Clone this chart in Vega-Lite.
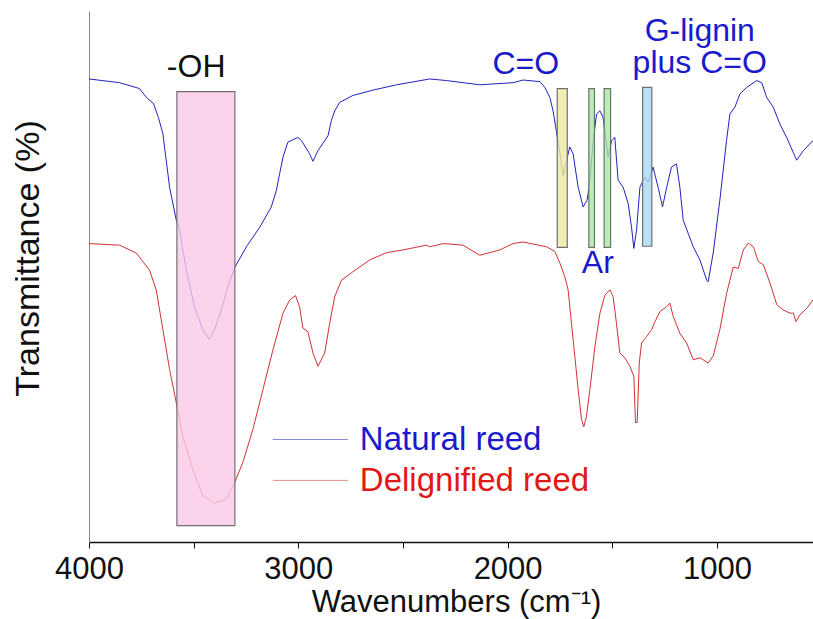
{
  "$schema": "https://vega.github.io/schema/vega-lite/v6.json",
  "width": 724,
  "height": 531,
  "autosize": {"type": "none"},
  "padding": {"left": 89, "top": 11, "right": 0, "bottom": 77},
  "background": "white",
  "config": {
    "view": {"stroke": null},
    "font": "Liberation Sans",
    "text": {"font": "Liberation Sans"}
  },
  "datasets": {
    "spectra": [
      {"wavenumber": 4000, "transmittance": 87.2, "sample": "Natural reed"},
      {"wavenumber": 3854, "transmittance": 86.5, "sample": "Natural reed"},
      {"wavenumber": 3759, "transmittance": 85.4, "sample": "Natural reed"},
      {"wavenumber": 3725, "transmittance": 83.7, "sample": "Natural reed"},
      {"wavenumber": 3692, "transmittance": 82.6, "sample": "Natural reed"},
      {"wavenumber": 3668, "transmittance": 79.9, "sample": "Natural reed"},
      {"wavenumber": 3647, "transmittance": 76.9, "sample": "Natural reed"},
      {"wavenumber": 3615, "transmittance": 66.8, "sample": "Natural reed"},
      {"wavenumber": 3583, "transmittance": 60.6, "sample": "Natural reed"},
      {"wavenumber": 3567, "transmittance": 58.7, "sample": "Natural reed"},
      {"wavenumber": 3535, "transmittance": 51.2, "sample": "Natural reed"},
      {"wavenumber": 3496, "transmittance": 44.3, "sample": "Natural reed"},
      {"wavenumber": 3456, "transmittance": 40.0, "sample": "Natural reed"},
      {"wavenumber": 3427, "transmittance": 38.2, "sample": "Natural reed"},
      {"wavenumber": 3400, "transmittance": 40.0, "sample": "Natural reed"},
      {"wavenumber": 3368, "transmittance": 43.7, "sample": "Natural reed"},
      {"wavenumber": 3336, "transmittance": 48.1, "sample": "Natural reed"},
      {"wavenumber": 3304, "transmittance": 51.7, "sample": "Natural reed"},
      {"wavenumber": 3248, "transmittance": 55.6, "sample": "Natural reed"},
      {"wavenumber": 3184, "transmittance": 59.3, "sample": "Natural reed"},
      {"wavenumber": 3129, "transmittance": 63.1, "sample": "Natural reed"},
      {"wavenumber": 3105, "transmittance": 66.2, "sample": "Natural reed"},
      {"wavenumber": 3089, "transmittance": 69.4, "sample": "Natural reed"},
      {"wavenumber": 3073, "transmittance": 72.5, "sample": "Natural reed"},
      {"wavenumber": 3050, "transmittance": 75.3, "sample": "Natural reed"},
      {"wavenumber": 3002, "transmittance": 76.2, "sample": "Natural reed"},
      {"wavenumber": 2985, "transmittance": 75.6, "sample": "Natural reed"},
      {"wavenumber": 2946, "transmittance": 73.1, "sample": "Natural reed"},
      {"wavenumber": 2930, "transmittance": 71.7, "sample": "Natural reed"},
      {"wavenumber": 2906, "transmittance": 73.7, "sample": "Natural reed"},
      {"wavenumber": 2858, "transmittance": 76.5, "sample": "Natural reed"},
      {"wavenumber": 2842, "transmittance": 79.4, "sample": "Natural reed"},
      {"wavenumber": 2826, "transmittance": 81.2, "sample": "Natural reed"},
      {"wavenumber": 2802, "transmittance": 82.8, "sample": "Natural reed"},
      {"wavenumber": 2739, "transmittance": 84.1, "sample": "Natural reed"},
      {"wavenumber": 2643, "transmittance": 85.1, "sample": "Natural reed"},
      {"wavenumber": 2531, "transmittance": 86.1, "sample": "Natural reed"},
      {"wavenumber": 2372, "transmittance": 87.2, "sample": "Natural reed"},
      {"wavenumber": 2292, "transmittance": 86.9, "sample": "Natural reed"},
      {"wavenumber": 2133, "transmittance": 86.1, "sample": "Natural reed"},
      {"wavenumber": 1974, "transmittance": 86.5, "sample": "Natural reed"},
      {"wavenumber": 1926, "transmittance": 87.0, "sample": "Natural reed"},
      {"wavenumber": 1846, "transmittance": 86.7, "sample": "Natural reed"},
      {"wavenumber": 1822, "transmittance": 85.6, "sample": "Natural reed"},
      {"wavenumber": 1798, "transmittance": 83.7, "sample": "Natural reed"},
      {"wavenumber": 1783, "transmittance": 81.2, "sample": "Natural reed"},
      {"wavenumber": 1770, "transmittance": 78.1, "sample": "Natural reed"},
      {"wavenumber": 1750, "transmittance": 73.1, "sample": "Natural reed"},
      {"wavenumber": 1735, "transmittance": 69.0, "sample": "Natural reed"},
      {"wavenumber": 1718, "transmittance": 71.9, "sample": "Natural reed"},
      {"wavenumber": 1703, "transmittance": 74.4, "sample": "Natural reed"},
      {"wavenumber": 1687, "transmittance": 73.1, "sample": "Natural reed"},
      {"wavenumber": 1663, "transmittance": 66.8, "sample": "Natural reed"},
      {"wavenumber": 1639, "transmittance": 63.1, "sample": "Natural reed"},
      {"wavenumber": 1620, "transmittance": 64.4, "sample": "Natural reed"},
      {"wavenumber": 1607, "transmittance": 68.1, "sample": "Natural reed"},
      {"wavenumber": 1591, "transmittance": 75.6, "sample": "Natural reed"},
      {"wavenumber": 1575, "transmittance": 80.6, "sample": "Natural reed"},
      {"wavenumber": 1559, "transmittance": 81.2, "sample": "Natural reed"},
      {"wavenumber": 1544, "transmittance": 80.0, "sample": "Natural reed"},
      {"wavenumber": 1520, "transmittance": 72.5, "sample": "Natural reed"},
      {"wavenumber": 1503, "transmittance": 75.6, "sample": "Natural reed"},
      {"wavenumber": 1488, "transmittance": 76.2, "sample": "Natural reed"},
      {"wavenumber": 1472, "transmittance": 68.1, "sample": "Natural reed"},
      {"wavenumber": 1448, "transmittance": 66.8, "sample": "Natural reed"},
      {"wavenumber": 1424, "transmittance": 63.7, "sample": "Natural reed"},
      {"wavenumber": 1408, "transmittance": 59.3, "sample": "Natural reed"},
      {"wavenumber": 1397, "transmittance": 55.3, "sample": "Natural reed"},
      {"wavenumber": 1384, "transmittance": 58.7, "sample": "Natural reed"},
      {"wavenumber": 1368, "transmittance": 66.8, "sample": "Natural reed"},
      {"wavenumber": 1344, "transmittance": 68.7, "sample": "Natural reed"},
      {"wavenumber": 1328, "transmittance": 67.8, "sample": "Natural reed"},
      {"wavenumber": 1305, "transmittance": 70.6, "sample": "Natural reed"},
      {"wavenumber": 1281, "transmittance": 66.8, "sample": "Natural reed"},
      {"wavenumber": 1260, "transmittance": 63.1, "sample": "Natural reed"},
      {"wavenumber": 1240, "transmittance": 66.8, "sample": "Natural reed"},
      {"wavenumber": 1217, "transmittance": 70.6, "sample": "Natural reed"},
      {"wavenumber": 1193, "transmittance": 71.2, "sample": "Natural reed"},
      {"wavenumber": 1177, "transmittance": 66.8, "sample": "Natural reed"},
      {"wavenumber": 1161, "transmittance": 60.6, "sample": "Natural reed"},
      {"wavenumber": 1137, "transmittance": 58.1, "sample": "Natural reed"},
      {"wavenumber": 1113, "transmittance": 55.6, "sample": "Natural reed"},
      {"wavenumber": 1081, "transmittance": 53.1, "sample": "Natural reed"},
      {"wavenumber": 1049, "transmittance": 49.3, "sample": "Natural reed"},
      {"wavenumber": 1042, "transmittance": 49.0, "sample": "Natural reed"},
      {"wavenumber": 1018, "transmittance": 54.4, "sample": "Natural reed"},
      {"wavenumber": 986, "transmittance": 64.4, "sample": "Natural reed"},
      {"wavenumber": 954, "transmittance": 75.6, "sample": "Natural reed"},
      {"wavenumber": 938, "transmittance": 80.6, "sample": "Natural reed"},
      {"wavenumber": 914, "transmittance": 81.9, "sample": "Natural reed"},
      {"wavenumber": 890, "transmittance": 84.4, "sample": "Natural reed"},
      {"wavenumber": 858, "transmittance": 85.6, "sample": "Natural reed"},
      {"wavenumber": 810, "transmittance": 86.9, "sample": "Natural reed"},
      {"wavenumber": 786, "transmittance": 86.5, "sample": "Natural reed"},
      {"wavenumber": 762, "transmittance": 83.7, "sample": "Natural reed"},
      {"wavenumber": 731, "transmittance": 81.9, "sample": "Natural reed"},
      {"wavenumber": 699, "transmittance": 78.7, "sample": "Natural reed"},
      {"wavenumber": 667, "transmittance": 76.2, "sample": "Natural reed"},
      {"wavenumber": 619, "transmittance": 71.9, "sample": "Natural reed"},
      {"wavenumber": 587, "transmittance": 73.7, "sample": "Natural reed"},
      {"wavenumber": 541, "transmittance": 75.6, "sample": "Natural reed"},

      {"wavenumber": 4000, "transmittance": 56.2, "sample": "Delignified reed"},
      {"wavenumber": 3854, "transmittance": 55.9, "sample": "Delignified reed"},
      {"wavenumber": 3774, "transmittance": 54.4, "sample": "Delignified reed"},
      {"wavenumber": 3711, "transmittance": 51.2, "sample": "Delignified reed"},
      {"wavenumber": 3679, "transmittance": 47.5, "sample": "Delignified reed"},
      {"wavenumber": 3647, "transmittance": 40.0, "sample": "Delignified reed"},
      {"wavenumber": 3615, "transmittance": 32.5, "sample": "Delignified reed"},
      {"wavenumber": 3583, "transmittance": 26.2, "sample": "Delignified reed"},
      {"wavenumber": 3552, "transmittance": 19.9, "sample": "Delignified reed"},
      {"wavenumber": 3504, "transmittance": 13.7, "sample": "Delignified reed"},
      {"wavenumber": 3456, "transmittance": 8.7, "sample": "Delignified reed"},
      {"wavenumber": 3400, "transmittance": 7.3, "sample": "Delignified reed"},
      {"wavenumber": 3344, "transmittance": 8.1, "sample": "Delignified reed"},
      {"wavenumber": 3304, "transmittance": 11.2, "sample": "Delignified reed"},
      {"wavenumber": 3265, "transmittance": 15.0, "sample": "Delignified reed"},
      {"wavenumber": 3217, "transmittance": 21.2, "sample": "Delignified reed"},
      {"wavenumber": 3169, "transmittance": 28.7, "sample": "Delignified reed"},
      {"wavenumber": 3121, "transmittance": 36.2, "sample": "Delignified reed"},
      {"wavenumber": 3073, "transmittance": 43.1, "sample": "Delignified reed"},
      {"wavenumber": 3041, "transmittance": 45.6, "sample": "Delignified reed"},
      {"wavenumber": 3013, "transmittance": 46.4, "sample": "Delignified reed"},
      {"wavenumber": 2994, "transmittance": 44.3, "sample": "Delignified reed"},
      {"wavenumber": 2978, "transmittance": 40.3, "sample": "Delignified reed"},
      {"wavenumber": 2954, "transmittance": 39.6, "sample": "Delignified reed"},
      {"wavenumber": 2930, "transmittance": 35.6, "sample": "Delignified reed"},
      {"wavenumber": 2906, "transmittance": 33.1, "sample": "Delignified reed"},
      {"wavenumber": 2874, "transmittance": 35.6, "sample": "Delignified reed"},
      {"wavenumber": 2850, "transmittance": 41.2, "sample": "Delignified reed"},
      {"wavenumber": 2826, "transmittance": 46.2, "sample": "Delignified reed"},
      {"wavenumber": 2794, "transmittance": 49.3, "sample": "Delignified reed"},
      {"wavenumber": 2739, "transmittance": 50.9, "sample": "Delignified reed"},
      {"wavenumber": 2659, "transmittance": 53.1, "sample": "Delignified reed"},
      {"wavenumber": 2579, "transmittance": 54.5, "sample": "Delignified reed"},
      {"wavenumber": 2500, "transmittance": 55.0, "sample": "Delignified reed"},
      {"wavenumber": 2388, "transmittance": 55.9, "sample": "Delignified reed"},
      {"wavenumber": 2372, "transmittance": 55.6, "sample": "Delignified reed"},
      {"wavenumber": 2308, "transmittance": 56.2, "sample": "Delignified reed"},
      {"wavenumber": 2213, "transmittance": 55.9, "sample": "Delignified reed"},
      {"wavenumber": 2133, "transmittance": 54.0, "sample": "Delignified reed"},
      {"wavenumber": 2037, "transmittance": 55.0, "sample": "Delignified reed"},
      {"wavenumber": 1974, "transmittance": 56.2, "sample": "Delignified reed"},
      {"wavenumber": 1926, "transmittance": 56.5, "sample": "Delignified reed"},
      {"wavenumber": 1814, "transmittance": 55.6, "sample": "Delignified reed"},
      {"wavenumber": 1774, "transmittance": 54.7, "sample": "Delignified reed"},
      {"wavenumber": 1750, "transmittance": 52.5, "sample": "Delignified reed"},
      {"wavenumber": 1727, "transmittance": 50.0, "sample": "Delignified reed"},
      {"wavenumber": 1711, "transmittance": 47.5, "sample": "Delignified reed"},
      {"wavenumber": 1695, "transmittance": 41.2, "sample": "Delignified reed"},
      {"wavenumber": 1679, "transmittance": 35.0, "sample": "Delignified reed"},
      {"wavenumber": 1663, "transmittance": 28.7, "sample": "Delignified reed"},
      {"wavenumber": 1647, "transmittance": 23.1, "sample": "Delignified reed"},
      {"wavenumber": 1636, "transmittance": 21.7, "sample": "Delignified reed"},
      {"wavenumber": 1623, "transmittance": 23.7, "sample": "Delignified reed"},
      {"wavenumber": 1607, "transmittance": 28.7, "sample": "Delignified reed"},
      {"wavenumber": 1583, "transmittance": 36.8, "sample": "Delignified reed"},
      {"wavenumber": 1559, "transmittance": 43.1, "sample": "Delignified reed"},
      {"wavenumber": 1535, "transmittance": 46.5, "sample": "Delignified reed"},
      {"wavenumber": 1511, "transmittance": 47.5, "sample": "Delignified reed"},
      {"wavenumber": 1496, "transmittance": 46.2, "sample": "Delignified reed"},
      {"wavenumber": 1480, "transmittance": 41.2, "sample": "Delignified reed"},
      {"wavenumber": 1464, "transmittance": 35.6, "sample": "Delignified reed"},
      {"wavenumber": 1440, "transmittance": 34.7, "sample": "Delignified reed"},
      {"wavenumber": 1416, "transmittance": 33.1, "sample": "Delignified reed"},
      {"wavenumber": 1397, "transmittance": 31.2, "sample": "Delignified reed"},
      {"wavenumber": 1389, "transmittance": 22.5, "sample": "Delignified reed"},
      {"wavenumber": 1381, "transmittance": 22.5, "sample": "Delignified reed"},
      {"wavenumber": 1371, "transmittance": 33.7, "sample": "Delignified reed"},
      {"wavenumber": 1360, "transmittance": 37.5, "sample": "Delignified reed"},
      {"wavenumber": 1336, "transmittance": 38.7, "sample": "Delignified reed"},
      {"wavenumber": 1312, "transmittance": 40.0, "sample": "Delignified reed"},
      {"wavenumber": 1296, "transmittance": 41.5, "sample": "Delignified reed"},
      {"wavenumber": 1272, "transmittance": 43.4, "sample": "Delignified reed"},
      {"wavenumber": 1240, "transmittance": 44.3, "sample": "Delignified reed"},
      {"wavenumber": 1225, "transmittance": 45.0, "sample": "Delignified reed"},
      {"wavenumber": 1209, "transmittance": 42.5, "sample": "Delignified reed"},
      {"wavenumber": 1177, "transmittance": 39.3, "sample": "Delignified reed"},
      {"wavenumber": 1145, "transmittance": 37.5, "sample": "Delignified reed"},
      {"wavenumber": 1113, "transmittance": 34.3, "sample": "Delignified reed"},
      {"wavenumber": 1081, "transmittance": 34.7, "sample": "Delignified reed"},
      {"wavenumber": 1042, "transmittance": 33.7, "sample": "Delignified reed"},
      {"wavenumber": 1018, "transmittance": 35.0, "sample": "Delignified reed"},
      {"wavenumber": 986, "transmittance": 40.0, "sample": "Delignified reed"},
      {"wavenumber": 954, "transmittance": 46.8, "sample": "Delignified reed"},
      {"wavenumber": 922, "transmittance": 51.8, "sample": "Delignified reed"},
      {"wavenumber": 898, "transmittance": 51.5, "sample": "Delignified reed"},
      {"wavenumber": 874, "transmittance": 55.0, "sample": "Delignified reed"},
      {"wavenumber": 850, "transmittance": 56.3, "sample": "Delignified reed"},
      {"wavenumber": 826, "transmittance": 55.6, "sample": "Delignified reed"},
      {"wavenumber": 802, "transmittance": 52.8, "sample": "Delignified reed"},
      {"wavenumber": 778, "transmittance": 52.2, "sample": "Delignified reed"},
      {"wavenumber": 746, "transmittance": 48.7, "sample": "Delignified reed"},
      {"wavenumber": 714, "transmittance": 44.7, "sample": "Delignified reed"},
      {"wavenumber": 683, "transmittance": 43.7, "sample": "Delignified reed"},
      {"wavenumber": 651, "transmittance": 43.1, "sample": "Delignified reed"},
      {"wavenumber": 635, "transmittance": 43.1, "sample": "Delignified reed"},
      {"wavenumber": 622, "transmittance": 41.5, "sample": "Delignified reed"},
      {"wavenumber": 603, "transmittance": 42.8, "sample": "Delignified reed"},
      {"wavenumber": 571, "transmittance": 44.0, "sample": "Delignified reed"},
      {"wavenumber": 541, "transmittance": 45.6, "sample": "Delignified reed"}
    ],
    "bands": [
      {"band": "-OH", "from": 3580, "to": 3303, "low": 3.1, "high": 84.8, "fill": "#fbc8e7"},
      {"band": "C=O", "from": 1763, "to": 1715, "low": 55.5, "high": 85.4, "fill": "#efe9a0"},
      {"band": "Ar 1", "from": 1612, "to": 1585, "low": 55.5, "high": 85.4, "fill": "#a6e8a0"},
      {"band": "Ar 2", "from": 1539, "to": 1508, "low": 55.5, "high": 85.4, "fill": "#a6e8a0"},
      {"band": "G-lignin", "from": 1355, "to": 1311, "low": 55.7, "high": 85.6, "fill": "#a9d8f2"}
    ],
    "labels": [
      {"text": ["-OH"], "wavenumber": 3488, "transmittance": 87.5, "color": "#111111"},
      {"text": ["C=O"], "wavenumber": 1913, "transmittance": 88.1, "color": "#1a1acc"},
      {"text": ["G-lignin", "plus C=O"], "wavenumber": 1082, "transmittance": 94.4, "color": "#1a1acc"},
      {"text": ["Ar"], "wavenumber": 1569, "transmittance": 50.7, "color": "#1a1acc"}
    ],
    "key": [
      {"sample": "Natural reed", "start": 3122, "end": 2763, "lineAt": 19.3, "textAt": 2706, "baseline": 17.4, "color": "#1a1acc"},
      {"sample": "Delignified reed", "start": 3122, "end": 2763, "lineAt": 11.6, "textAt": 2706, "baseline": 9.6, "color": "#e01818"}
    ]
  },
  "layer": [
    {
      "data": {"name": "spectra"},
      "mark": {"type": "line", "strokeWidth": 1, "interpolate": "linear"},
      "encoding": {
        "x": {
          "field": "wavenumber",
          "type": "quantitative",
          "scale": {"domain": [541, 4000], "reverse": true, "nice": false, "zero": false},
          "axis": {
            "values": [4000, 3500, 3000, 2500, 2000, 1500, 1000],
            "format": "d",
            "labelExpr": "datum.value % 1000 === 0 ? datum.label : ''",
            "labelFont": "Liberation Sans",
            "labelFontSize": 31,
            "labelColor": "#111111",
            "labelPadding": 6,
            "labelFlush": false,
            "labelOverlap": false,
            "tickSize": 6,
            "tickColor": "#111111",
            "domainColor": "#111111",
            "domainWidth": 1.5,
            "grid": false,
            "title": "Wavenumbers (cm⁻¹)",
            "titleFont": "Liberation Sans",
            "titleFontSize": 31,
            "titleFontWeight": "normal",
            "titleColor": "#111111",
            "titlePadding": 3,
            "titleX": 367
          }
        },
        "y": {
          "field": "transmittance",
          "type": "quantitative",
          "scale": {"domain": [0, 100], "nice": false, "zero": false},
          "axis": {
            "ticks": false,
            "labels": false,
            "grid": false,
            "domainColor": "#8a8a8a",
            "domainWidth": 1,
            "title": "Transmittance (%)",
            "titleFont": "Liberation Sans",
            "titleFontSize": 34,
            "titleFontWeight": "normal",
            "titleColor": "#111111",
            "titleAngle": -90,
            "titleAlign": "center",
            "titleBaseline": "bottom",
            "titleX": -44,
            "titleY": 247
          }
        },
        "color": {
          "field": "sample",
          "type": "nominal",
          "scale": {"domain": ["Natural reed", "Delignified reed"], "range": ["#2222bb", "#d03232"]},
          "legend": null
        }
      }
    },
    {
      "data": {"name": "bands"},
      "mark": {"type": "rect", "fillOpacity": 0.8, "stroke": "#707070", "strokeWidth": 1.2},
      "encoding": {
        "x": {"field": "from", "type": "quantitative"},
        "x2": {"field": "to"},
        "y": {"field": "low", "type": "quantitative"},
        "y2": {"field": "high"},
        "fill": {"field": "fill", "type": "nominal", "scale": null}
      }
    },
    {
      "mark": {"type": "rule", "color": "#8a8a8a", "strokeWidth": 1},
      "encoding": {"y": {"datum": 100, "type": "quantitative"}}
    },
    {
      "data": {"name": "labels"},
      "mark": {"type": "text", "font": "Liberation Sans", "fontSize": 32, "lineHeight": 32.5, "align": "center", "baseline": "alphabetic"},
      "encoding": {
        "x": {"field": "wavenumber", "type": "quantitative"},
        "y": {"field": "transmittance", "type": "quantitative"},
        "text": {"field": "text"},
        "color": {"field": "color", "type": "nominal", "scale": null}
      }
    },
    {
      "data": {"name": "key"},
      "mark": {"type": "rule", "strokeWidth": 1, "opacity": 0.55},
      "encoding": {
        "x": {"field": "start", "type": "quantitative"},
        "x2": {"field": "end"},
        "y": {"field": "lineAt", "type": "quantitative"},
        "color": {"field": "sample", "type": "nominal", "scale": {"domain": ["Natural reed", "Delignified reed"], "range": ["#2222bb", "#d03232"]}, "legend": null}
      }
    },
    {
      "data": {"name": "key"},
      "mark": {"type": "text", "font": "Liberation Sans", "fontSize": 33, "align": "left", "baseline": "alphabetic"},
      "encoding": {
        "x": {"field": "textAt", "type": "quantitative"},
        "y": {"field": "baseline", "type": "quantitative"},
        "text": {"field": "sample"},
        "color": {"field": "color", "type": "nominal", "scale": null}
      }
    }
  ]
}
